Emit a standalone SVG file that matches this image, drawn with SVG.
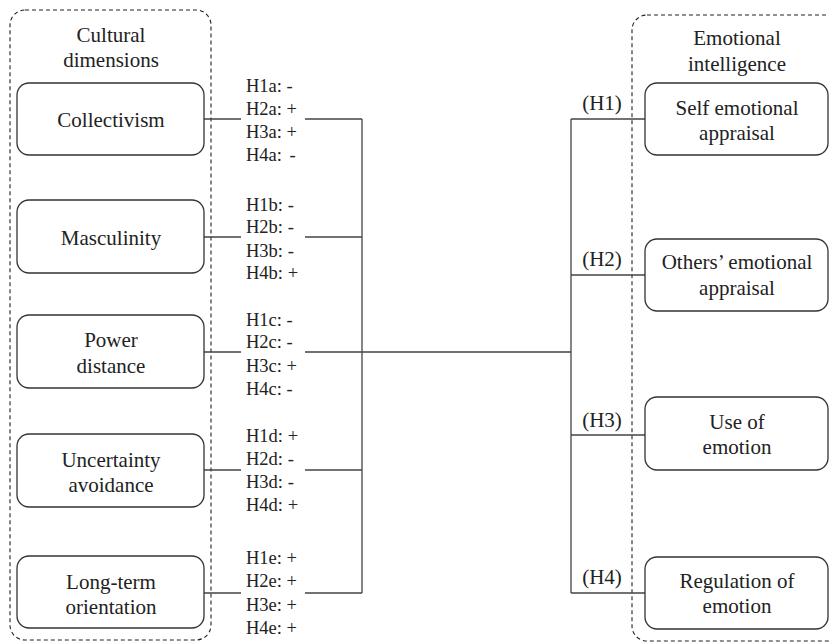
<svg xmlns="http://www.w3.org/2000/svg" width="829" height="642" viewBox="0 0 829 642">
<style>
.t{font-family:'Liberation Serif','Tinos','Times New Roman','DejaVu Serif',serif;font-size:21px;fill:#222;text-anchor:middle}
.h{font-family:'Liberation Serif','Tinos','Times New Roman','DejaVu Serif',serif;font-size:18.5px;fill:#222}
.box{fill:#fff;stroke:#333;stroke-width:1.3}
.grp{fill:none;stroke:#222;stroke-width:1.1;stroke-dasharray:4 3}
.ln{fill:none;stroke:#444;stroke-width:1.3}
</style>
<rect width="829" height="642" fill="#fff"/>
<g id="group-cultural">
<rect class="grp" x="10" y="10" width="201" height="630" rx="15"/>
<text class="t" x="111" y="42">Cultural</text>
<text class="t" x="111" y="67">dimensions</text>
</g>
<g id="group-ei">
<rect class="grp" x="632" y="15" width="230" height="626" rx="15"/>
<text class="t" x="737" y="45">Emotional</text>
<text class="t" x="737" y="71">intelligence</text>
</g>
<g id="connectors">
<path class="ln" d="M204 119H241M305 119H362M204 237H241M305 237H362M204 352H241M305 352H571M204 470H241M305 470H362M204 593H241M305 593H362M362 119V593"/>
<path class="ln" d="M571 119V593M571 119H645M571 275H645M571 435H645M571 593H645"/>
</g>
<g id="labels">
<text class="h" x="246" y="92">H1a: -</text>
<text class="h" x="246" y="115">H2a: +</text>
<text class="h" x="246" y="138">H3a: +</text>
<text class="h" x="246" y="161">H4a: <tspan dx="3">-</tspan></text>
<text class="h" x="246" y="211">H1b: -</text>
<text class="h" x="246" y="233">H2b: -</text>
<text class="h" x="246" y="257">H3b: -</text>
<text class="h" x="246" y="279">H4b: +</text>
<text class="h" x="246" y="326">H1c: -</text>
<text class="h" x="246" y="348">H2c: -</text>
<text class="h" x="246" y="372">H3c: +</text>
<text class="h" x="246" y="395">H4c: -</text>
<text class="h" x="246" y="442">H1d: +</text>
<text class="h" x="246" y="465">H2d: -</text>
<text class="h" x="246" y="488">H3d: -</text>
<text class="h" x="246" y="511">H4d: +</text>
<text class="h" x="246" y="564">H1e: +</text>
<text class="h" x="246" y="587">H2e: +</text>
<text class="h" x="246" y="611">H3e: +</text>
<text class="h" x="246" y="634">H4e: +</text>
<text class="t" x="602" y="110">(H1)</text>
<text class="t" x="602" y="266">(H2)</text>
<text class="t" x="602" y="427">(H3)</text>
<text class="t" x="602" y="584">(H4)</text>
</g>
<g id="collectivism">
<rect class="box" x="17" y="83" width="187" height="72" rx="12"/>
<text class="t" x="111" y="127">Collectivism</text>
</g>
<g id="masculinity">
<rect class="box" x="17" y="200" width="187" height="73" rx="12"/>
<text class="t" x="111" y="245">Masculinity</text>
</g>
<g id="power-distance">
<rect class="box" x="17" y="315" width="187" height="73" rx="12"/>
<text class="t" x="111" y="347">Power</text>
<text class="t" x="111" y="373">distance</text>
</g>
<g id="uncertainty-avoidance">
<rect class="box" x="17" y="434" width="187" height="73" rx="12"/>
<text class="t" x="111" y="467">Uncertainty</text>
<text class="t" x="111" y="492">avoidance</text>
</g>
<g id="long-term-orientation">
<rect class="box" x="17" y="556" width="187" height="72" rx="12"/>
<text class="t" x="111" y="589">Long-term</text>
<text class="t" x="111" y="614">orientation</text>
</g>
<g id="self-emotional-appraisal">
<rect class="box" x="645" y="83" width="183" height="72" rx="12"/>
<text class="t" x="737" y="115">Self emotional</text>
<text class="t" x="737" y="140">appraisal</text>
</g>
<g id="others-emotional-appraisal">
<rect class="box" x="645" y="239" width="183" height="72" rx="12"/>
<text class="t" x="737" y="269">Others’ emotional</text>
<text class="t" x="737" y="295">appraisal</text>
</g>
<g id="use-of-emotion">
<rect class="box" x="645" y="397" width="183" height="73" rx="12"/>
<text class="t" x="737" y="429">Use of</text>
<text class="t" x="737" y="454">emotion</text>
</g>
<g id="regulation-of-emotion">
<rect class="box" x="645" y="557" width="183" height="72" rx="12"/>
<text class="t" x="737" y="588">Regulation of</text>
<text class="t" x="737" y="613">emotion</text>
</g>
</svg>
